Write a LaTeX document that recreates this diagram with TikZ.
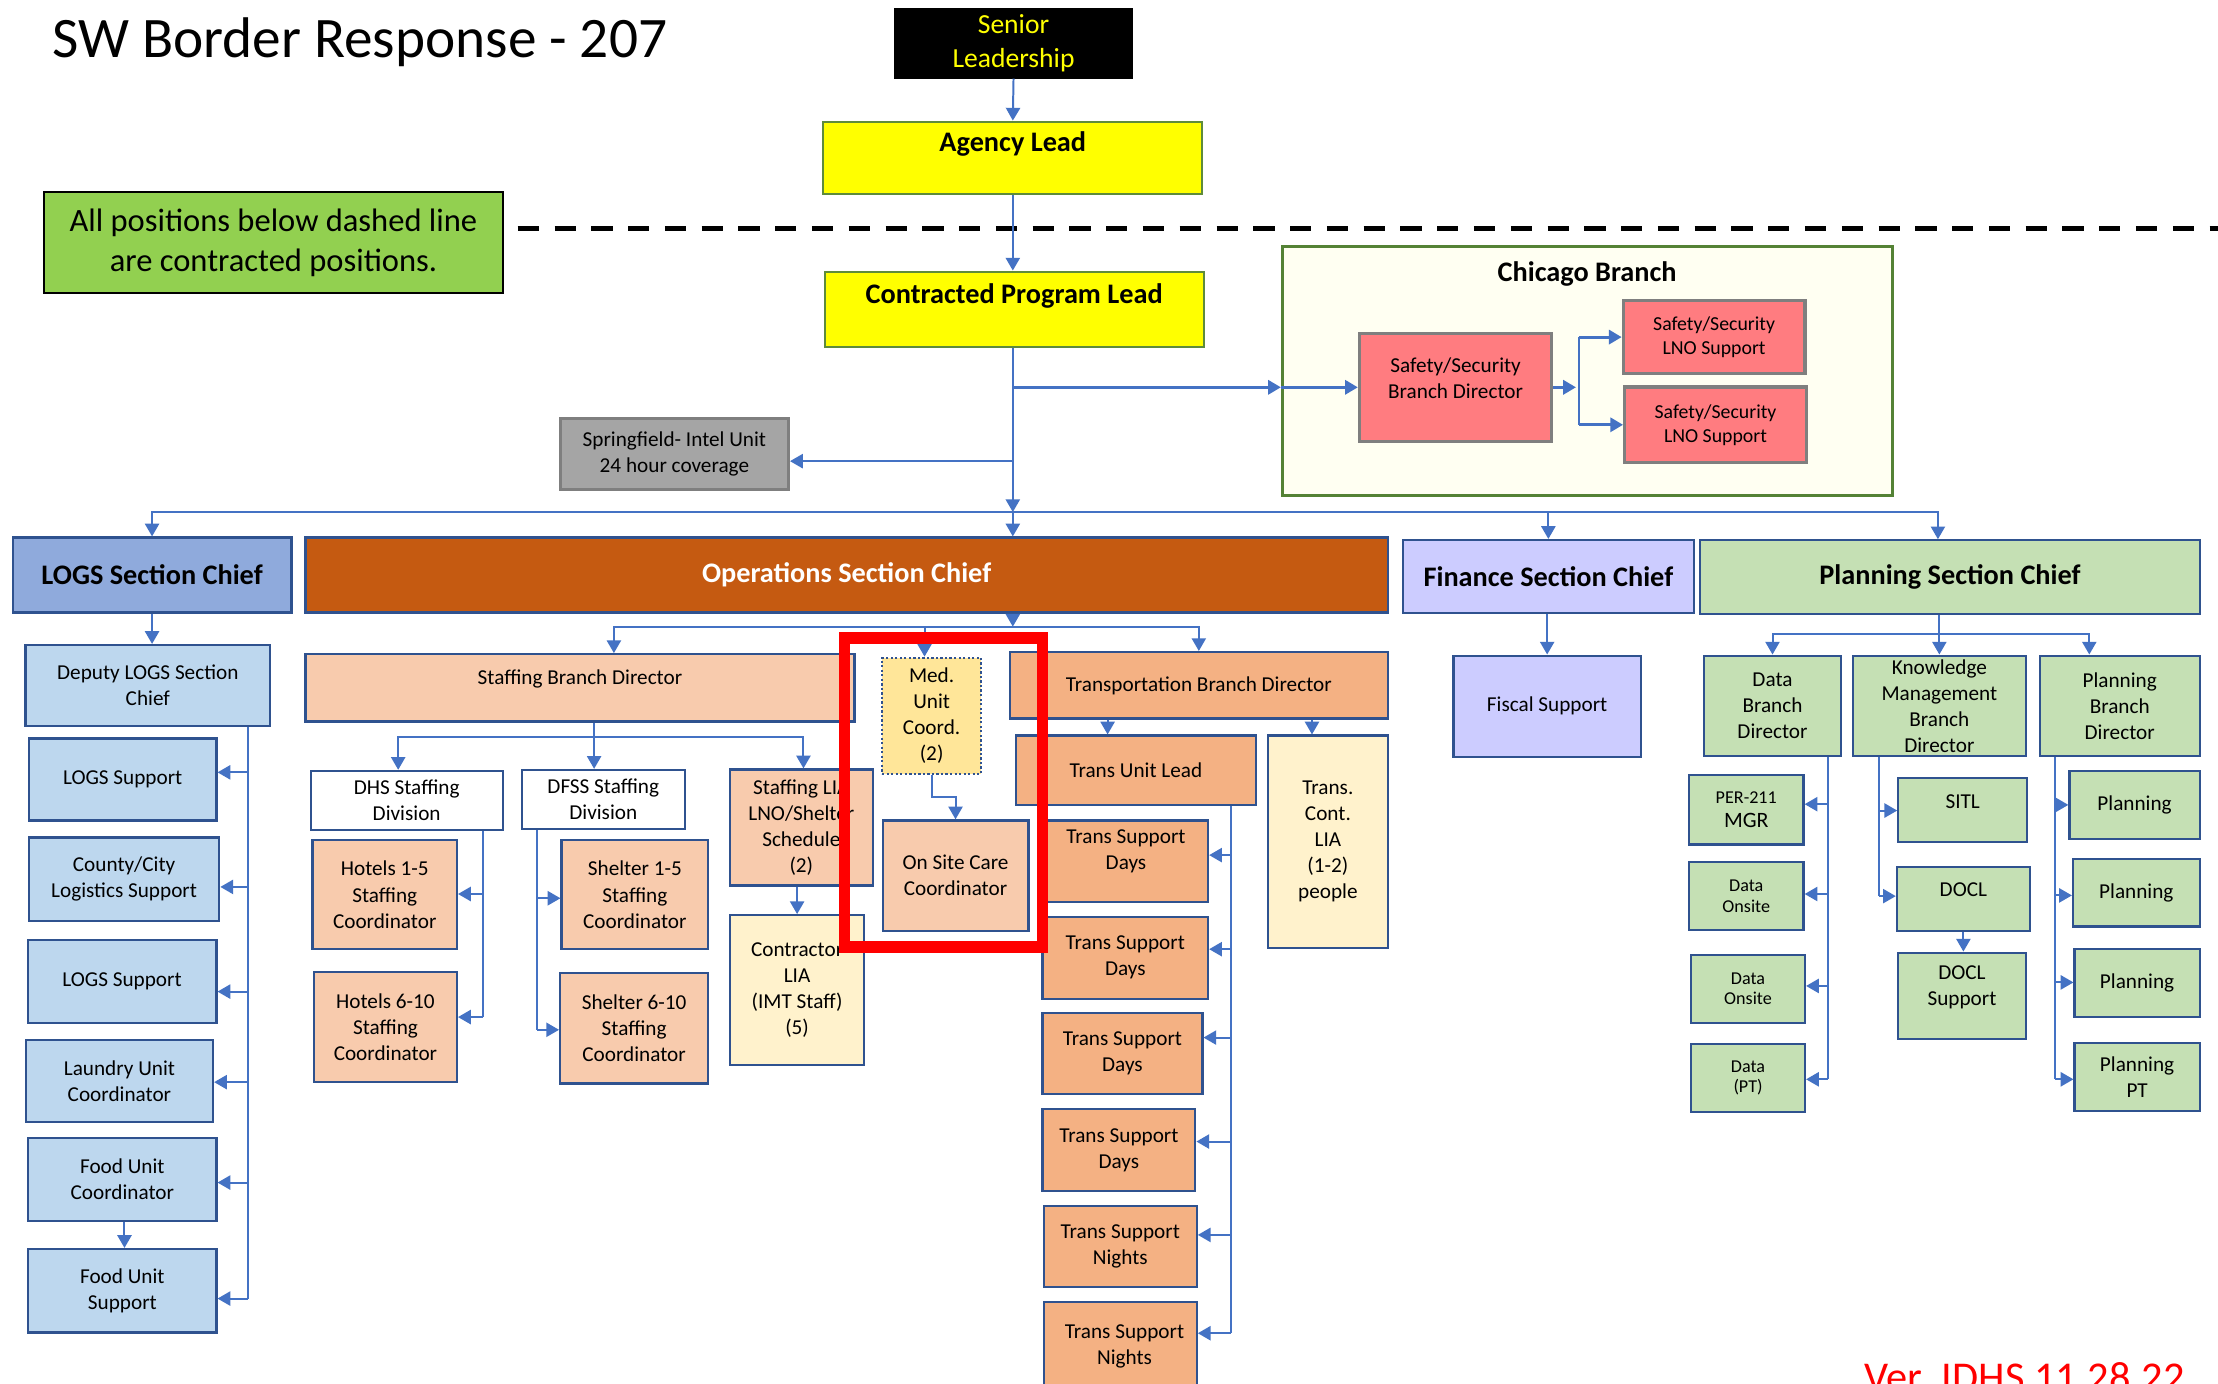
\documentclass[tikz,border=0pt]{standalone}
\usepackage{fontspec}
\setmainfont{Carlito}
\usetikzlibrary{arrows.meta,calc}
\definecolor{conn}{HTML}{4472C4}
\definecolor{bord}{HTML}{2F528F}
\definecolor{ylw}{HTML}{FFFF00}
\definecolor{olv}{HTML}{5E8B3B}
\definecolor{notec}{HTML}{92D050}
\definecolor{chic}{HTML}{FFFFF2}
\definecolor{chib}{HTML}{548235}
\definecolor{pinkc}{HTML}{FF7C80}
\definecolor{grayb}{HTML}{7F7F7F}
\definecolor{grayf}{HTML}{A5A5A5}
\definecolor{logsc}{HTML}{8FAADC}
\definecolor{logsl}{HTML}{BDD7EE}
\definecolor{opsc}{HTML}{C55A11}
\definecolor{stfc}{HTML}{F8CBAD}
\definecolor{trc}{HTML}{F4B183}
\definecolor{finc}{HTML}{CCCCFF}
\definecolor{planc}{HTML}{C5E0B4}
\definecolor{creamc}{HTML}{FFF2CC}
\definecolor{medc}{HTML}{FFE699}
\newcommand\fB{\fontsize{15}{18.4}\selectfont}
\newcommand\fS{\fontsize{12.8}{14.6}\selectfont}
\newcommand\fT{\fontsize{14}{17}\selectfont}
\newcommand\fH{\fontsize{20}{24}\selectfont\bfseries}
\newcommand\bx[7][]{\node[box,#1,minimum width={#4-#2},minimum height={#5-#3}] (#6) at ({(#2+#4)/2},{(#3+#5)/2+1.5}) {#7};}
\begin{document}
\begin{tikzpicture}[x=1pt,y=-1pt,
  box/.style={draw=bord, line width=1.6pt, inner sep=1pt, align=center, font=\fB, text=black, yshift=1.5pt},
  arr/.style={draw=conn, line width=1.4pt, -{Triangle[length=9pt,width=10pt]}},
  ln/.style={draw=conn, line width=1.4pt},
  txt/.style={inner sep=0pt, align=center}]
\useasboundingbox (0,0) rectangle (1568,978);
\fill[white] (0,0) rectangle (1568,978);
\clip (0,0) rectangle (1568,978);

% ---------- title and top ----------
\node[anchor=base west, inner sep=0pt, font=\fontsize{40.5}{48}\selectfont] (title) at (36.8,40.5) {SW Border Response - 207};
\bx[fill=black,draw=black,text=ylw,font=\fontsize{19.5}{24.5}\selectfont]{633}{6.4}{800}{54.7}{senior}{Senior\\Leadership}
\bx[fill=ylw,draw=olv,line width=1.5pt]{582}{86}{850}{137}{agency}{}
\node[txt,font=\fH] (agencyt) at (716,102) {Agency Lead};
\bx[fill=ylw,draw=olv,line width=1.5pt]{583}{192}{851}{245}{cpl}{}
\node[txt,font=\fH] (cplt) at (717,209.4) {Contracted Program Lead};
\bx[fill=notec,draw=black,line width=1.5pt,font=\fontsize{23}{28}\selectfont]{31}{136}{355.6}{207}{note}{All positions below dashed line\\are contracted positions.}
\coordinate (dashL) at (366,161.5);
\coordinate (dashR) at (1568,161.5);
\draw[black, line width=3.5pt, dash pattern=on 15pt off 11pt] (dashL) -- (dashR);

% ---------- Chicago ----------
\bx[fill=chic,draw=chib,line width=2pt]{906.5}{174}{1338}{350}{chicago}{}
\node[txt,font=\fH] (chicagot) at (1122,194) {Chicago Branch};
\bx[fill=pinkc,draw=grayb,line width=2.2pt]{961}{235.6}{1097}{312}{sbd}{}
\node[txt,font=\fB] (sbdt) at (1029,267.5) {Safety/Security\\Branch Director};
\bx[fill=pinkc,draw=grayb,line width=2.2pt,font=\fT]{1147.5}{212.6}{1276}{264}{lno1}{Safety/Security\\LNO Support}
\bx[fill=pinkc,draw=grayb,line width=2.2pt,font=\fT]{1148.5}{273.6}{1277}{327}{lno2}{Safety/Security\\LNO Support}
\bx[fill=grayf,draw=grayb,line width=2pt,font=\fontsize{15}{18.6}\selectfont]{396}{296}{557.5}{346}{spring}{Springfield- Intel Unit\\24 hour coverage}

% ---------- section chiefs ----------
\bx[fill=logsc,font=\fH]{9}{380}{206}{433}{logs}{LOGS Section Chief}
\bx[fill=opsc,text=white,font=\fH]{216}{380}{981}{433}{ops}{Operations Section Chief}
\bx[fill=finc,font=\fH]{991.6}{381.8}{1197.6}{433.5}{fin}{Finance Section Chief}
\bx[fill=planc,font=\fH]{1202}{382}{1555}{434}{plan}{Planning Section Chief}

% ---------- LOGS column ----------
\bx[fill=logsl]{18}{456}{191}{513}{dep}{Deputy LOGS Section\\Chief}
\bx[fill=logsl]{20.5}{522}{153}{580}{logs1}{LOGS Support}
\bx[fill=logsl]{20.5}{592}{155}{651}{county}{County/City\\Logistics Support}
\bx[fill=logsl]{19.6}{664.5}{153}{723}{logs2}{LOGS Support}
\bx[fill=logsl]{18.3}{735}{150.6}{793}{laundry}{Laundry Unit\\Coordinator}
\bx[fill=logsl]{20}{804.5}{153}{863}{food1}{Food Unit\\Coordinator}
\bx[fill=logsl]{20}{883}{153}{942}{food2}{Food Unit\\Support}

% ---------- Staffing ----------
\bx[fill=stfc]{216}{462.5}{604}{510}{stf}{}
\node[txt,font=\fB] (stft) at (410,480) {Staffing Branch Director};
\bx[fill=white]{219.6}{545}{355.4}{587}{dhs}{DHS Staffing\\Division}
\bx[fill=white]{369}{544.3}{484}{586}{dfss}{DFSS Staffing\\Division}
\bx[fill=stfc]{221}{594}{323}{671}{hot1}{Hotels 1-5\\Staffing\\Coordinator}
\bx[fill=stfc]{222}{687}{323}{765}{hot2}{Hotels 6-10\\Staffing\\Coordinator}
\bx[fill=stfc]{397}{594}{500.6}{671}{shl1}{Shelter 1-5\\Staffing\\Coordinator}
\bx[fill=stfc]{396}{688}{500.6}{766}{shl2}{Shelter 6-10\\Staffing\\Coordinator}
\bx[fill=stfc]{516}{544}{617}{626}{lia}{Staffing LIA\\LNO/Shelter\\Schedule\\(2)}
\bx[fill=creamc]{516}{647}{611}{753}{contr}{Contractor\\LIA\\(IMT Staff)\\(5)}
\bx[fill=medc,dash pattern=on 1.6pt off 1.6pt]{623.6}{465}{693.6}{547}{med}{Med.\\Unit\\Coord.\\(2)}
\bx[fill=stfc]{624}{580}{727}{658}{onsite}{On Site Care\\Coordinator}

% ---------- Transportation ----------
\bx[fill=trc]{714}{461}{981}{508}{trans}{Transportation Branch Director}
\bx[fill=trc]{718}{520}{888}{569}{tul}{Trans Unit Lead}
\bx[fill=creamc]{896.5}{520}{981}{670}{tcl}{Trans.\\Cont.\\LIA\\(1-2)\\people}
\bx[fill=trc]{738}{580}{854}{637.5}{ts1}{}
\node[txt,font=\fB] (ts1t) at (796,602) {Trans Support\\Days};
\bx[fill=trc]{737}{648}{854}{706}{ts2}{Trans Support\\Days}
\bx[fill=trc]{737}{716}{850}{773.5}{ts3}{Trans Support\\Days}
\bx[fill=trc]{737}{784}{845}{842}{ts4}{Trans Support\\Days}
\bx[fill=trc]{738}{852.5}{846}{910}{tn1}{Trans Support\\Nights}
\bx[fill=trc]{738}{920.5}{846}{990}{tn2}{}
\node[txt,font=\fB] (tn2t) at (795,951.5) {Trans Support\\Nights};

% ---------- Finance ----------
\bx[fill=finc]{1027.5}{463.5}{1160}{535}{fiscal}{Fiscal Support}

% ---------- Planning ----------
\bx[fill=planc]{1204.6}{463.5}{1301.5}{534.5}{data}{Data\\Branch\\Director}
\bx[fill=planc]{1310}{463.5}{1432}{534.5}{know}{Knowledge\\Management\\Branch\\Director}
\bx[fill=planc]{1442}{463.5}{1555}{534.5}{pbd}{Planning\\Branch\\Director}
\bx[fill=planc,font=\fontsize{15.5}{17}\selectfont]{1194}{548}{1275}{597}{per}{{\fS PER-211}\\MGR}
\bx[fill=planc,font=\fS]{1194}{609.5}{1275}{657.5}{don1}{Data\\Onsite}
\bx[fill=planc,font=\fS]{1195.5}{675}{1276}{723}{don2}{Data\\Onsite}
\bx[fill=planc,font=\fS]{1195.5}{738}{1276}{786}{dpt}{Data\\(PT)}
\bx[fill=planc]{1342}{550}{1433}{595}{sitl}{}
\node[txt,font=\fB] (sitlt) at (1387.5,567) {SITL};
\bx[fill=planc]{1341}{613}{1435}{658}{docl}{}
\node[txt,font=\fB] (doclt) at (1388,629) {DOCL};
\bx[fill=planc]{1342}{673.5}{1432}{734.5}{doclsup}{}
\node[txt,font=\fB] (doclsupt) at (1387,698) {DOCL\\Support};
\bx[fill=planc]{1463}{545}{1555}{593}{p1}{Planning}
\bx[fill=planc]{1465.5}{607}{1555}{655}{p2}{Planning}
\bx[fill=planc]{1466.6}{671}{1555}{719}{p3}{Planning}
\bx[fill=planc]{1466.6}{737.5}{1555}{785.5}{ppt}{Planning\\PT}

% ---------- connectors: top ----------
\coordinate (hub) at (716,362);
\draw[arr] (senior.south) -- (agency.north);
\draw[arr] (agency.south) -- (agency.south |- cpl.north);
\draw[arr] (cpl.south -| hub) -- (hub);
\coordinate (spin) at ([yshift=-5pt]spring.east);
\draw[arr] (spin -| hub) -- (spin);
\draw[arr, line width=2pt] (sbd.west -| hub) -- (sbd.west -| chicago.west);
\draw[arr, line width=2pt] (sbd.west -| chicago.west) -- (sbd.west);
\coordinate (cfa) at ([xshift=16pt]sbd.east);
\coordinate (cfork) at ([xshift=18pt]sbd.east);
\draw[arr, line width=2pt] (sbd.east) -- (cfa);
\draw[ln] (cfork |- lno1.west) -- (cfork |- lno2.west);
\draw[arr, line width=2pt] (cfork |- lno1.west) -- (lno1.west);
\draw[arr, line width=2pt] (cfork |- lno2.west) -- (lno2.west);
\coordinate (planin) at ([xshift=-8.5pt]plan.north);
\draw[arr] (hub) -| (logs.north);
\draw[arr] (hub) -- (hub |- ops.north);
\draw[arr] (hub) -| (fin.north);
\draw[arr] (hub) -| (planin);

% ---------- LOGS connectors ----------
\draw[arr] (logs.south) -- (logs.south |- dep.north);
\coordinate (la1) at (175,546);
\coordinate (la2) at (175,627);
\coordinate (la3) at (175,701);
\coordinate (la4) at (175,765);
\coordinate (la5) at (175,836);
\coordinate (la6) at (175,918);
\draw[ln] (dep.south -| la1) -- (la6);
\draw[arr] (la1) -- (la1 -| logs1.east);
\draw[arr] (la2) -- (la2 -| county.east);
\draw[arr] (la3) -- (la3 -| logs2.east);
\draw[arr] (la4) -- (la4 -| laundry.east);
\draw[arr] (la5) -- (la5 -| food1.east);
\draw[arr] (la6) -- (la6 -| food2.east);
\draw[arr] ([xshift=1.5pt]food1.south) -- ([xshift=1.5pt]food2.north);

% ---------- Operations connectors ----------
\coordinate (opshub) at (716,443);
\coordinate (stfin) at ([xshift=24pt]stf.north);
\coordinate (medin) at ([xshift=-5pt]med.north);
\draw[arr] (hub |- ops.south) -- (opshub);
\draw[arr] (opshub) -| (stfin);
\draw[arr] (opshub) -| (medin);
\draw[arr] (opshub) -| (trans.north);
\coordinate (stfout) at ([xshift=10pt]stf.south);
\coordinate (stfj) at (420,521);
\coordinate (dhsin) at ([xshift=-6pt]dhs.north);
\coordinate (liain) at ([xshift=1.5pt]lia.north);
\draw[ln] (stfout) -- (stfj);
\draw[arr] (stfj) -| (dhsin);
\draw[arr] (stfj) -- (stfj |- dfss.north);
\draw[arr] (stfj) -| (liain);
\coordinate (ha1) at (341.5,632);
\coordinate (ha2) at (341.5,719);
\draw[ln] (dhs.south -| ha1) -- (ha2);
\draw[arr] (ha1) -- (ha1 -| hot1.east);
\draw[arr] (ha2) -- (ha2 -| hot2.east);
\coordinate (sa1) at (379.5,635);
\coordinate (sa2) at (379.5,728);
\draw[ln] (dfss.south -| sa1) -- (sa2);
\draw[arr] (sa1) -- (sa1 -| shl1.west);
\draw[arr] (sa2) -- (sa2 -| shl2.west);
\draw[arr] (lia.south -| contr.north) -- (contr.north);
\draw[arr] (med.south) |- ($(med.south)!0.5!(onsite.north)$) -| (onsite.north);

% ---------- Transportation connectors ----------
\coordinate (tula) at ([xshift=-64.5pt]trans.south);
\coordinate (tcla) at ([xshift=80pt]trans.south);
\draw[arr] (tula) -- (tula |- tul.north);
\draw[arr] (tcla) -- (tcla |- tcl.north);
\coordinate (ta1) at (870,604.5);
\coordinate (ta2) at (870,671);
\coordinate (ta3) at (870,733.5);
\coordinate (ta4) at (870,807);
\coordinate (ta5) at (870,873);
\coordinate (ta6) at (870,942.5);
\draw[ln] (tul.south -| ta1) -- (ta6);
\draw[arr] (ta1) -- (ta1 -| ts1.east);
\draw[arr] (ta2) -- (ta2 -| ts2.east);
\draw[arr] (ta3) -- (ta3 -| ts3.east);
\draw[arr] (ta4) -- (ta4 -| ts4.east);
\draw[arr] (ta5) -- (ta5 -| tn1.east);
\draw[arr] (ta6) -- (ta6 -| tn2.east);

% ---------- Finance connector ----------
\draw[arr] (fin.south -| fiscal.north) -- (fiscal.north);

% ---------- Planning connectors ----------
\coordinate (pj) at (1371,448);
\coordinate (pbdin) at ([xshift=-21.5pt]pbd.north);
\draw[ln] (plan.south -| pj) -- (pj);
\draw[arr] (pj) -| (data.north);
\draw[arr] (pj) -- (pj |- know.north);
\draw[arr] (pj) -| (pbdin);
\coordinate (da1) at (1292,568.5);
\coordinate (da2) at (1292,632);
\coordinate (da3) at (1292,697);
\coordinate (da4) at (1292,763);
\draw[ln] (data.south -| da1) -- (da4);
\draw[arr] (da1) -- (da1 -| per.east);
\draw[arr] (da2) -- (da2 -| don1.east);
\draw[arr] (da3) -- (da3 -| don2.east);
\draw[arr] (da4) -- (da4 -| dpt.east);
\coordinate (ka1) at (1328,573);
\coordinate (ka2) at (1328,633.5);
\draw[ln] (know.south -| ka1) -- (ka2);
\draw[arr] (ka1) -- (ka1 -| sitl.west);
\draw[arr] (ka2) -- (ka2 -| docl.west);
\draw[arr] (docl.south) -- (docl.south |- doclsup.north);
\coordinate (pa1) at (1453,569);
\coordinate (pa2) at (1453,633);
\coordinate (pa3) at (1453,694.5);
\coordinate (pa4) at (1453,763);
\draw[ln] (pbd.south -| pa1) -- (pa4);
\draw[arr] (pa1) -- (pa1 -| p1.west);
\draw[arr] (pa2) -- (pa2 -| p2.west);
\draw[arr] (pa3) -- (pa3 -| p3.west);
\draw[arr] (pa4) -- (pa4 -| ppt.west);

% ---------- highlight frame and version ----------
\node[draw=red, line width=8pt, minimum width=140, minimum height=218.5, inner sep=0pt] (redframe) at (667,560.25) {};
\node[anchor=base west, inner sep=0pt, text=red, font=\fontsize{30}{36}\selectfont] (ver) at (1318,984) {Ver. IDHS 11.28.22};
\end{tikzpicture}
\end{document}
